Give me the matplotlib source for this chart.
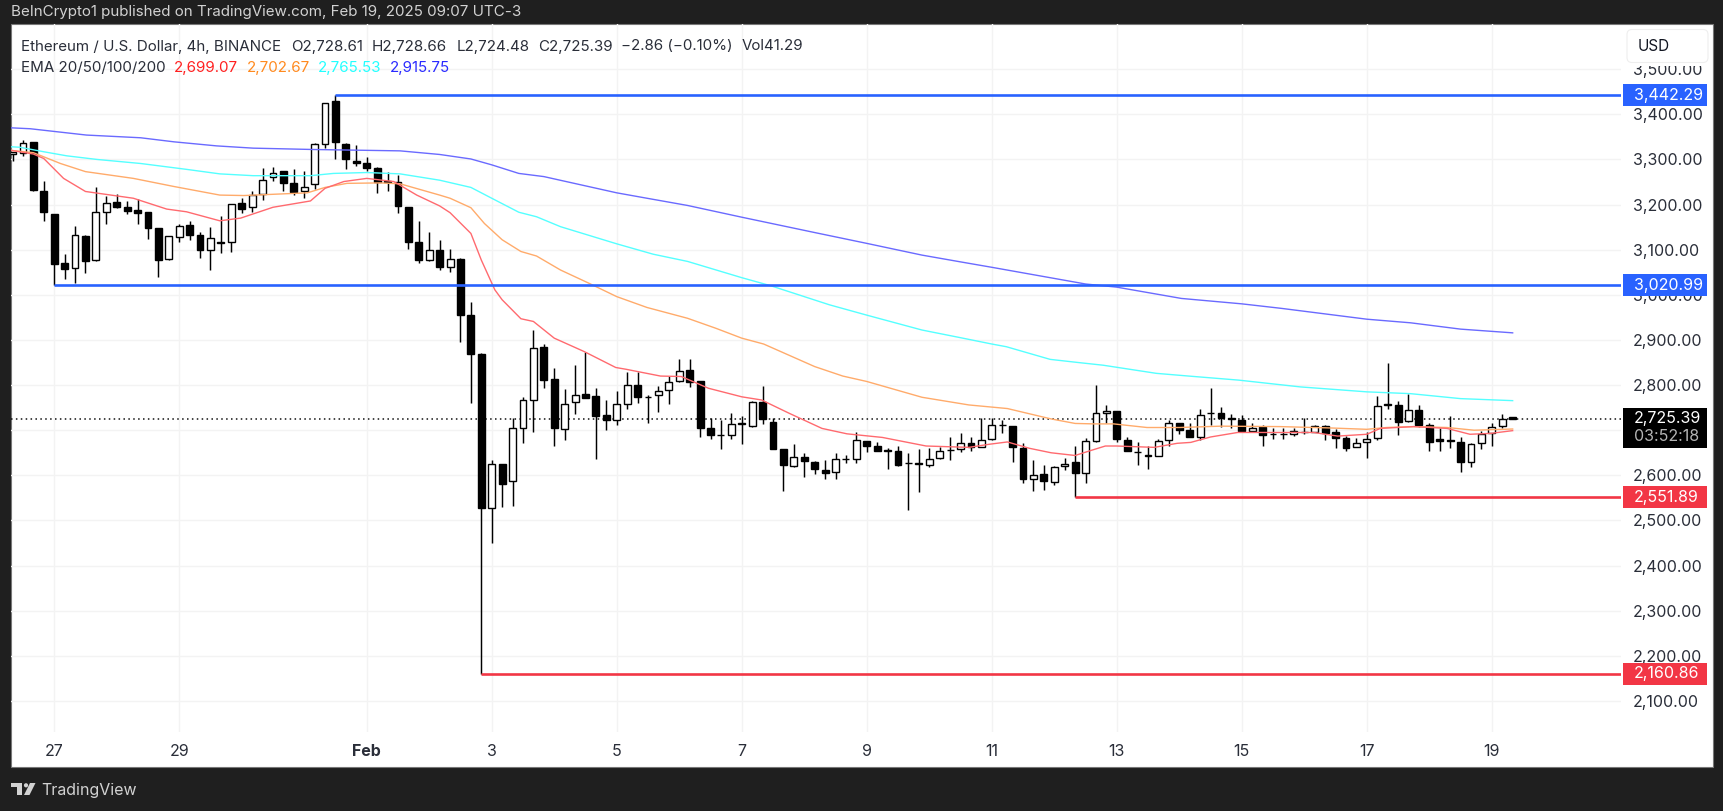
import numpy as np
import matplotlib
matplotlib.use('Agg')
import matplotlib.pyplot as plt
from matplotlib.patches import Rectangle, FancyBboxPatch, Polygon, Circle

W, H = 1724, 811

opens = [3311,3315,3338,3229,3179,3070,3060,3130,3078,3184,
         3206,3194,3187,3183,3148,3079,3129,3155,3133,3099,
         3117,3116,3203,3194,3223,3260,3274,3248,3231,3245,
         3334,3429,3334,3296,3291,3280,3253,3249,3195,3116,
         3077,3099,3061,3079,2956,2869,2528,2625,2587,2706,
         2768,2884,2813,2703,2762,2781,2775,2734,2723,2757,
         2801,2774,2777,2789,2809,2833,2808,2705,2690,2689,
         2714,2710,2762,2719,2658,2620,2640,2630,2611,2607,
         2637,2636,2677,2666,2656,2653,2628,2627,2624,2638,
         2657,2659,2671,2663,2680,2712,2709,2661,2591,2602,
         2586,2620,2629,2604.5,2675,2737.5,2742.5,2677.6,2652,2644,
         2642,2677.6,2715,2700,2685.7,2739,2737.4,2726,2722.6,2698.3,
         2708,2692,2692.4,2692.4,2697,2695.3,2709.3,2695.3,2682,2662.8,
         2673,2682,2757.5,2755,2719.7,2744,2711.6,2680,2677.5,2673,
         2628.8,2671,2694.6,2709.3,2728.61]
highs = [3317,3343,3339,3252,3180,3090,3152,3132,3238,3219,
         3223,3207,3213,3184,3148,3131,3157,3163,3139,3150,
         3175,3202,3215,3229,3281,3283,3274,3278,3274,3336,
         3426,3442.29,3336,3332,3305,3284,3272,3266,3195,3163,
         3139,3122,3102,3081,2984,2872,2633,2625,2728,2773,
         2922,2891,2837,2791,2844,2873,2794,2766,2787,2828,
         2828,2777,2799,2821,2857,2858,2808,2726,2723,2739,
         2731,2765,2798,2727,2658,2669,2649,2632,2635,2650,
         2646,2696,2677,2674,2661,2666,2649,2658,2660,2663,
         2686,2694,2686,2726,2726,2723,2709,2671,2633,2624,
         2621,2638,2665,2683,2800,2755,2743,2686,2673,2664,
         2680,2722,2715,2717,2747,2793,2751,2737,2733,2715,
         2712,2706,2705,2704,2726,2711,2711,2703,2687,2683,
         2695,2776,2850,2764,2780,2756,2717,2705,2732,2684,
         2672,2699,2715,2737,2728.66]
lows = [3297,3308,3231,3164,3021,3036,3027,3049,3076,3156,
        3192,3179,3158,3123,3040,3077,3117,3122,3082,3055,
        3093,3096,3181,3184,3210,3253,3229,3222,3215,3235,
        3325,3300,3279,3285,3275,3226,3230,3181,3102,3070,
        3076,3055,3051,2896,2761,2160.86,2451,2529,2533,2672,
        2697,2793,2666,2678,2736,2771,2636,2700,2712,2748,
        2760,2717,2741,2757,2807,2795,2686,2681,2658,2681,
        2670,2708,2713,2658,2565,2618,2596,2603,2592,2592,
        2628,2628,2652,2655,2615,2621,2524,2562,2618,2637,
        2635,2652,2654,2662,2679,2693,2630,2583,2566,2568,
        2579,2611,2551.89,2584,2673,2717,2674,2655,2623,2615,
        2642,2666,2692,2685,2678,2712,2708,2706,2695,2698,
        2665,2681,2681,2687,2692,2695,2678,2661,2653,2662,
        2639,2678,2748,2689,2719,2708,2655,2655,2661,2607,
        2619,2658,2666,2706,2724.48]
closes = [3317,3337,3232,3184,3069,3058,3132,3074,3183,3203,
          3195,3186,3181,3147,3078,3130,3153,3133,3100,3127,
          3114,3201,3191,3222,3255,3271,3247,3228,3240,3334,
          3426,3339,3300,3293,3280,3251,3251,3196,3118,3078,
          3100,3062,3080,2956,2869,2528,2626,2581,2704,2768,
          2882,2812,2705,2758,2778,2771,2732,2722,2759,2800,
          2774,2773,2788,2806,2831,2807,2705,2690,2689,2714,
          2715,2762,2724,2659,2624,2641,2631,2613,2605,2637,
          2636,2679,2664,2655,2655,2624,2627,2626,2637,2653,
          2656,2672,2662,2679,2712,2711,2663,2591,2601,2587,
          2618,2625,2606,2675,2737.5,2743,2680,2655,2651,2643,
          2675,2715,2701,2686,2734,2738,2726,2725,2699,2706,
          2690,2691.5,2692,2697.5,2696,2708.6,2694.6,2683.5,2661.3,2671.7,
          2680,2753,2756.5,2719,2744,2711.6,2674.6,2675.4,2676.8,2630.3,
          2668.7,2692.4,2708,2725.6,2725.39]

# bar number 0 is the first candle of Jan 27, six candles per day
first_bar = -4

ema20_bar = [-4.1,-2,-1,0.9,3,7.6,10.8,12.7,15.9,17.9,21,24.6,26,27.8,30,32.6,34.8,37,38,40,41,42.3,43,44.8,46,48,
             50.9,53.9,54.9,58.2,60.2,62.8,66,67.9,70.6,73.7,76.1,79.5,83.7,87.8,89.8,91.5,93.6,95.7,98,99.5,100.9,
             102,105.6,107.8,109.1,111,113.6,116.4,120.9,123.2,126,127.3,130.5,133.7,135.9,137.9,140]
ema20 = [3320,3312,3302,3258,3229,3214,3190,3184,3164,3170,3194,3208,3236,3251,3258,3251,3221,3197,3182,3136,3077,3011,2989,2947,2941,2904,
         2874,2839,2835,2820,2819,2793,2774,2767,2737,2704,2692,2684,2665,2662,2669,2674,2660,2650,2644,2655,2665,
         2665,2662,2671,2673,2685,2695,2695,2695,2687,2691,2704,2708,2704,2691,2693,2699.07]
ema50_bar = [-4.1,-2,0.6,3,7.6,11.5,15.9,18.2,24.3,26,28.1,31.3,33.2,37,38,40,41.3,43,44.8,46.3,48.6,51.3,54,56.9,60.8,63.5,66,
             68.1,73,75.7,78,83.3,87.8,91.5,95.7,98,99.8,101.7,104.9,108,112,117.7,122.5,126,127.9,130.5,133.7,136.3,140]
ema50 = [3320,3315,3291,3273,3258,3240,3221,3220,3226,3238,3247,3248,3246,3221,3214,3193,3158,3122,3096,3086,3055,3026,2996,2972,2948,2926,2904,
         2891,2841,2820,2808,2773,2756,2748,2725,2715,2714,2714,2706,2706,2709,2708,2705,2702,2706,2708,2706,2700,2702.67]
ema100_bar = [-4.1,-3.3,-1,1.2,4.1,8.3,12.7,15.9,19.1,24.6,26.8,30,33.2,37,40,42,44.6,46.3,48.6,54,57.5,60.8,66,68.8,
              74.4,78,83.3,87,90,91.4,95.6,98.3,100.7,105.8,108.9,113.7,119.6,126,130.2,135,140]
ema100 = [3328,3327,3317,3308,3300,3291,3278,3268,3264,3264,3269,3271,3268,3254,3238,3214,3183,3173,3151,3113,3090,3074,3038,3020,
          2978,2955,2922,2905,2891,2885,2857,2850,2844,2826,2820,2811,2796,2785,2781,2770,2765.53]
ema200_bar = [-4.1,-2.3,3.1,8.3,11.5,15.6,19.1,24.9,33.2,37,40,42,44.6,47,54,56.9,60.8,66,73,78,83.3,87,90,
              99,102,108.2,114,117.8,126,130.2,135,140]
ema200 = [3370,3368,3354,3348,3339,3330,3325,3322,3319,3311,3301,3288,3269,3262,3226,3214,3198,3172,3138,3114,3088,3073,3061,
          3024,3017,2992,2980,2970,2946,2938,2924,2915.75]

level_prices = [3442.29, 3020.99, 2551.89, 2160.86]
level_starts = [27, 0, 98, 41]
level_colors = ['#2962ff', '#2962ff', '#f23645', '#f23645']
last_price = 2725.39

price_ticks = [2100,2200,2300,2400,2500,2600,2700,2800,2900,3000,3100,3200,3300,3400,3500]
date_bars = [0,12,30,42,54,66,78,90,102,114,126,138]
date_labels = ['27','29','Feb','3','5','7','9','11','13','15','17','19']

DARK = '#1f1f1f'
FONT = 'Inter'
LEGEND_SIZE = 10.9
AXIS_SIZE = 11.5
plt.rcParams['font.family'] = [FONT, 'DejaVu Sans']

fig = plt.figure(figsize=(W / 100, H / 100), dpi=100, facecolor=DARK)


def fx(x):
    return x / W


def fy(y):
    return 1 - y / H


def ftext(x, y, s, **kw):
    kw.setdefault('va', 'center')
    kw.setdefault('fontsize', LEGEND_SIZE)
    kw.setdefault('color', '#2a2e39')
    fig.text(fx(x), fy(y), s, **kw)


# white chart panel
fig.add_artist(Rectangle((fx(11), fy(767)), fx(1702), 743 / H, transform=fig.transFigure,
                         facecolor='white', edgecolor='#777777', lw=0.8, zorder=0))

ax = fig.add_axes([fx(11), fy(732), fx(1610), 708 / H], facecolor='none', zorder=1)
ax.set_xlim(-4.147, 150.4)
ax.set_ylim(2031.3, 3600.1)
for s in ax.spines.values():
    s.set_visible(False)
ax.set_axisbelow(True)
ax.grid(True, color='#f3f3f3', lw=1.0)

ax.yaxis.tick_right()
ax.set_yticks(price_ticks)
# 2,700.00 sits behind the last price tag in the original, so it gets no label
ax.set_yticklabels(['' if p == 2700 else f'{p:,.2f}' for p in price_ticks], fontsize=AXIS_SIZE, color='#2a2e39')
ax.tick_params(axis='y', length=0, pad=8.5)
ax.set_xticks(date_bars)
ax.set_xticklabels(date_labels, fontsize=AXIS_SIZE, color='#2a2e39')
ax.tick_params(axis='x', length=0, pad=8.7)
ax.get_xticklabels()[2].set_fontweight('bold')

ax.axhline(last_price, color='#111111', lw=1.1, ls=(0, (1, 2.2)), zorder=1)

bars = np.arange(first_bar, first_bar + len(opens))
ax.vlines(bars, lows, highs, color='black', lw=1.05, zorder=2)
for b, o, c in zip(bars, opens, closes):
    up = c >= o
    ax.bar(b, abs(c - o), bottom=min(o, c), width=0.66, facecolor='white' if up else 'black',
           edgecolor='black', lw=1.0, zorder=2.2)

ax.plot(ema200_bar, ema200, color='#6a6aff', lw=1.0, zorder=3)
ax.plot(ema100_bar, ema100, color='#55ffff', lw=1.0, zorder=3)
ax.plot(ema50_bar, ema50, color='#ffab6b', lw=1.0, zorder=3)
ax.plot(ema20_bar, ema20, color='#ff6a6f', lw=1.0, zorder=3)

tr = ax.get_yaxis_transform()
tag_x = (1622.7 - 11) / 1610
tag_w = 84.3 / 1610
px_price = 1 / 0.4513
for p, start, col in zip(level_prices, level_starts, level_colors):
    ax.plot([start, ax.get_xlim()[1]], [p, p], color=col, lw=1.9, zorder=4, solid_capstyle='butt')
    ax.add_patch(Rectangle((tag_x, p - 11 * px_price), tag_w, 22 * px_price, transform=tr, clip_on=False,
                           facecolor=col, edgecolor='none', zorder=5))
    ax.text(1.0079, p, f'{p:,.2f}', transform=tr, color='white', fontsize=AXIS_SIZE, va='center', ha='left',
            clip_on=False, zorder=6)

# last price tag with countdown
ax.add_patch(Rectangle((tag_x, last_price - 29 * px_price), tag_w, 39.3 * px_price, transform=tr, clip_on=False,
                       facecolor='black', edgecolor='none', zorder=5))
ax.text(1.0079, last_price, f'{last_price:,.2f}', transform=tr, color='white', fontsize=AXIS_SIZE, va='center',
        clip_on=False, zorder=6)
ax.text(1.0079, last_price - 18 * px_price, '03:52:18', transform=tr, color='#b4b4b4', fontsize=AXIS_SIZE, va='center',
        clip_on=False, zorder=6)

# USD button covers the top half of the top tick label
fig.add_artist(Rectangle((1627, H - 66), 81, 5, transform=None, facecolor='white', edgecolor='none', zorder=3))
fig.add_artist(FancyBboxPatch((1627, H - 62.5), 81, 33, boxstyle='round,pad=0,rounding_size=5', transform=None,
                              facecolor='white', edgecolor='#eeeeee', lw=0.8, zorder=3))
ftext(1638, 46.5, 'USD', fontsize=11, color='#131722', zorder=4)

# header, legend rows, footer
ftext(11, 12, 'BeInCrypto1 published on TradingView.com, Feb 19, 2025 09:07 UTC-3', color='#d2d2d2')
ftext(21, 46.5, 'Ethereum / U.S. Dollar, 4h, BINANCE')
ftext(291, 46.5, 'O2,728.61')
ftext(372, 46.5, 'H2,728.66')
ftext(456.7, 46.5, 'L2,724.48')
ftext(537.7, 46.5, 'C2,725.39')
ftext(621, 46.5, '\u22122.86 (\u22120.10%)')
ftext(741.7, 46.5, 'Vol41.29')
ftext(21, 68, 'EMA 20/50/100/200')
ftext(174, 68, '2,699.07', color='#ff2020')
ftext(247, 68, '2,702.67', color='#ff8a1f')
ftext(318, 68, '2,765.53', color='#22ffff')
ftext(390, 68, '2,915.75', color='#2a2aff')

ftext(41, 791, 'TradingView', color='#d2d2d2', fontsize=11.5)
logo = '#d2d2d2'
fig.add_artist(Polygon([(11, H - 783), (22, H - 783), (22, H - 795), (17, H - 795), (17, H - 787), (11, H - 787)],
                       transform=None, facecolor=logo, edgecolor='none', zorder=3))
fig.add_artist(Circle((26, H - 785.3), 2.1, transform=None, facecolor=logo, edgecolor='none', zorder=3))
fig.add_artist(Polygon([(30, H - 783), (35.5, H - 783), (29.5, H - 795), (24, H - 795)],
                       transform=None, facecolor=logo, edgecolor='none', zorder=3))

fig.savefig('out.png', dpi=100, facecolor=fig.get_facecolor())
